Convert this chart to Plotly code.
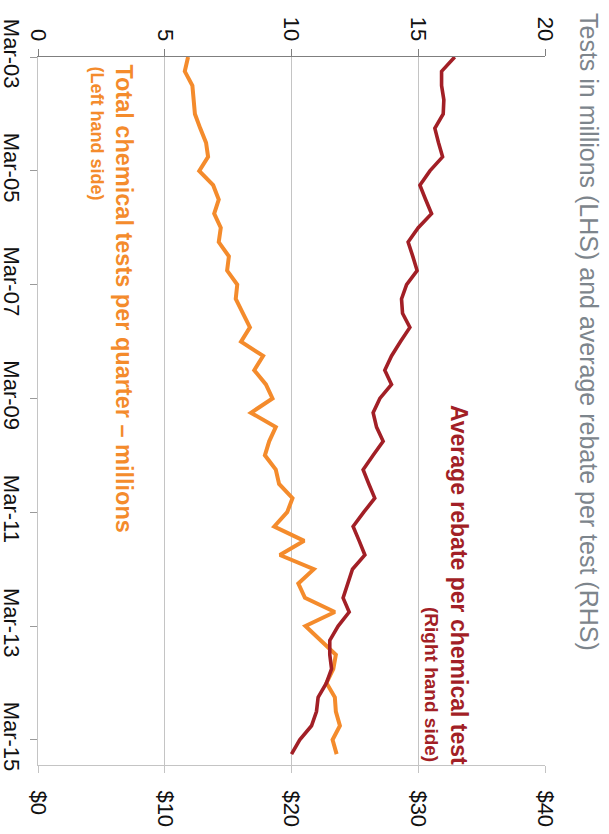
import plotly.graph_objects as go

# ---- data ----
quarters = [f"{y}-{m:02d}-01" for y in range(2003, 2016) for m in (3, 6, 9, 12)][:50]

tests_millions = [5.92, 5.79, 6.09, 6.15, 6.19, 6.40, 6.63, 6.71, 6.36, 6.91,
                  7.13, 6.95, 7.21, 7.13, 7.53, 7.46, 7.86, 7.80, 8.09, 8.36,
                  8.01, 8.88, 8.53, 8.99, 9.25, 8.40, 9.38, 9.12, 8.95, 9.38,
                  9.51, 10.04, 9.83, 9.32, 10.50, 9.54, 10.88, 10.27, 10.53, 11.71,
                  10.55, 11.16, 11.75, 11.65, 11.38, 11.71, 11.75, 11.91, 11.62, 11.78]

rebate_dollars = [32.88, 31.84, 31.84, 32.02, 31.97, 31.31, 31.60, 31.92, 30.92, 30.13,
                  30.58, 31.05, 30.00, 29.20, 29.57, 29.91, 29.08, 28.68, 28.76, 29.34,
                  28.60, 27.89, 27.36, 27.89, 26.97, 26.44, 26.71, 27.23, 26.44, 25.65,
                  26.10, 26.57, 25.70, 24.86, 25.34, 25.79, 24.81, 24.47, 24.07, 24.55,
                  23.68, 23.02, 23.02, 23.16, 22.76, 22.10, 21.97, 21.58, 20.65, 20.00]

date_tickvals = ["2003-03-01", "2005-03-01", "2007-03-01", "2009-03-01",
                 "2011-03-01", "2013-03-01", "2015-03-01"]
date_ticktext = ["Mar-03", "Mar-05", "Mar-07", "Mar-09", "Mar-11", "Mar-13", "Mar-15"]

title_text = "Tests in millions (LHS) and average rebate per test (RHS)"
tests_label = "Total chemical tests per quarter – millions"
tests_sub = "(Left hand side)"
rebate_label = "Average rebate per chemical test"
rebate_sub = "(Right hand side)"

ORANGE = "#F48B2C"
RED = "#A21F26"
GREY_TITLE = "#7D858C"
GRID = "#C4C4C4"
FONT = "Liberation Sans, Arial, sans-serif"

W, H = 609, 834
L, R, T, B = 38, 64, 57, 69
PW, PH = W - L - R, H - T - B


def px(x):
    return (x - L) / PW


def py(y):
    return (H - B - y) / PH


fig = go.Figure()
fig.add_trace(go.Scatter(x=tests_millions, y=quarters, mode="lines",
                         line=dict(color=ORANGE, width=4), xaxis="x", yaxis="y",
                         hoverinfo="skip", showlegend=False))
fig.add_trace(go.Scatter(x=rebate_dollars, y=quarters, mode="lines",
                         line=dict(color=RED, width=3.6), xaxis="x2", yaxis="y",
                         hoverinfo="skip", showlegend=False))

tickfont = dict(family=FONT, size=22, color="#111111")

fig.update_layout(
    width=W, height=H,
    margin=dict(l=L, r=R, t=T, b=B, pad=0, autoexpand=False),
    paper_bgcolor="white", plot_bgcolor="white",
    xaxis=dict(side="top", range=[0, 20], dtick=5, tick0=0, tickangle=90,
               showgrid=True, gridcolor=GRID, gridwidth=1, zeroline=False,
               showline=True, linecolor="#7F7F7F", linewidth=1,
               ticks="outside", ticklen=7, tickcolor="#7F7F7F",
               tickfont=tickfont, fixedrange=True, automargin=False),
    xaxis2=dict(side="bottom", overlaying="x", range=[0, 40], dtick=10, tick0=0,
                tickprefix="$", tickangle=90, showgrid=False, zeroline=False,
                showline=True, linecolor=GRID, linewidth=1,
                ticks="outside", ticklen=7, tickcolor=GRID, ticklabelstandoff=13,
                tickfont=tickfont, fixedrange=True, automargin=False),
    yaxis=dict(type="date", range=["2015-08-10", "2003-03-01"],
               tickvals=date_tickvals, ticktext=date_ticktext, tickangle=90,
               showgrid=False, zeroline=False, showline=True, linecolor=GRID,
               linewidth=1, ticks="outside", ticklen=7, tickcolor="#9A9A9A",
               tickfont=tickfont, fixedrange=True, automargin=False),
)

ann = []
ann.append(dict(text=title_text, textangle=90, x=px(589), y=py(11), xref="paper", yref="paper",
                xanchor="center", yanchor="top", showarrow=False,
                font=dict(family=FONT, size=25, color=GREY_TITLE)))
ann.append(dict(text=f"<b>{tests_label}</b>", textangle=90, x=px(123.6), y=py(62),
                xref="paper", yref="paper", xanchor="center", yanchor="top", showarrow=False,
                font=dict(family=FONT, size=23.5, color=ORANGE)))
ann.append(dict(text=f"<b>{tests_sub}</b>", textangle=90, x=px(96.5), y=py(64),
                xref="paper", yref="paper", xanchor="center", yanchor="top", showarrow=False,
                font=dict(family=FONT, size=18, color=ORANGE)))
ann.append(dict(text=f"<b>{rebate_label}</b>", textangle=90, x=px(459), y=py(767),
                xref="paper", yref="paper", xanchor="center", yanchor="bottom", showarrow=False,
                font=dict(family=FONT, size=23, color=RED)))
ann.append(dict(text=f"<b>{rebate_sub}</b>", textangle=90, x=px(431.5), y=py(764),
                xref="paper", yref="paper", xanchor="center", yanchor="bottom", showarrow=False,
                font=dict(family=FONT, size=19, color=RED)))
fig.update_layout(annotations=ann)

fig.write_html("out.html", config=dict(displayModeBar=False))
